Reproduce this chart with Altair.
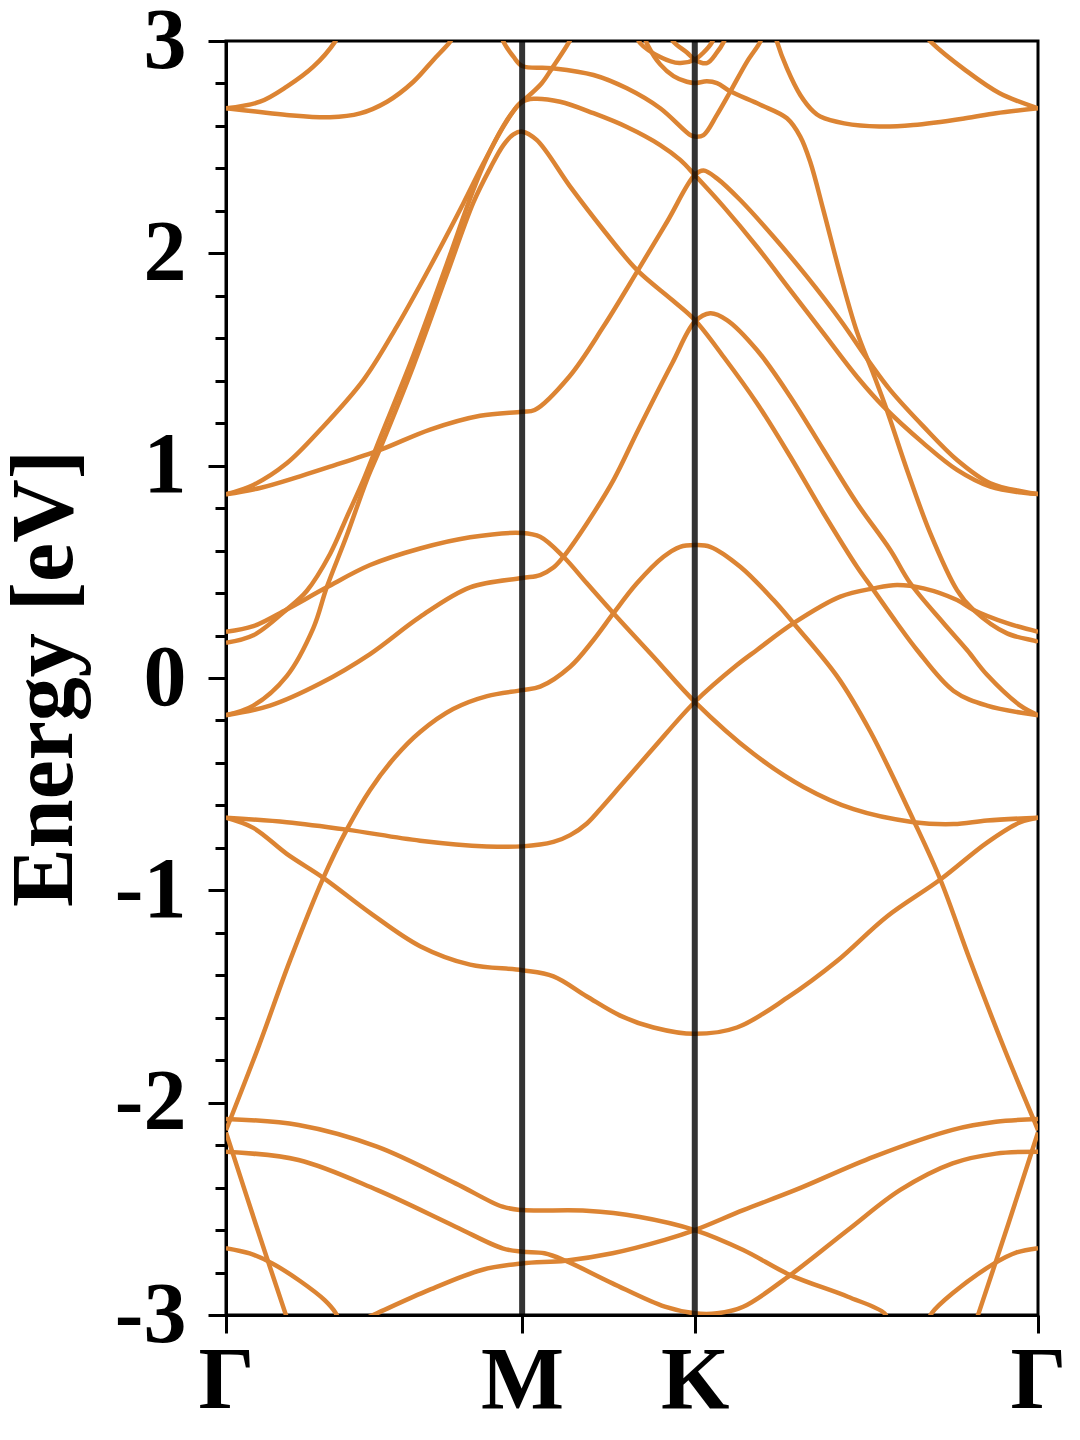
import altair as alt
import pandas as pd

# High-symmetry points along the path (path length units)
KPOINTS = [0.0, 1.0, 1.583, 2.742]
KLABELS = ["Γ", "M", "K", "Γ"]
E_MIN, E_MAX = -3, 3
YTICKS = [round(-3 + 0.2 * i, 1) for i in range(31)]

# Bands: lists of (k, energy in eV)
BAND_A = [(0.0, -2.13), (0.1115, -1.73), (0.2162, -1.33), (0.3287, -0.941), (0.4078, -0.714),
          (0.4865, -0.527), (0.5709, -0.372), (0.6554, -0.254), (0.7669, -0.146), (0.8818, -0.085),
          (1.0, -0.057),
          (1.0608, -0.041), (1.1622, 0.053), (1.2409, 0.179), (1.3084, 0.305), (1.3875, 0.446),
          (1.4774, 0.571), (1.5338, 0.618), (1.583, 0.626), (1.6351, 0.618), (1.7365, 0.524),
          (1.849, 0.367), (1.9166, 0.258), (2.0632, 0.009), (2.1757, -0.252), (2.322, -0.671),
          (2.4122, -0.949), (2.5135, -1.333), (2.630, -1.752), (2.7274, -2.08), (2.742, -2.13)]
BAND_BL = [(0.0, -2.14), (0.1, -2.57), (0.2, -2.99), (0.21, -3.03)]
BAND_BR = [(2.532, -3.03), (2.5419, -2.99), (2.642, -2.57), (2.742, -2.14)]
BAND_G1 = [(0.0, -2.077), (0.2449, -2.105), (0.5098, -2.207), (0.775, -2.38), (0.9338, -2.49),
           (1.0, -2.506), (1.2166, -2.509), (1.3932, -2.537), (1.583, -2.60), (1.7466, -2.694),
           (1.9054, -2.812), (2.1, -2.914), (2.2236, -2.992), (2.235, -3.03)]
BAND_G2 = [(0.0, -2.231), (0.2449, -2.27), (0.5098, -2.411), (0.775, -2.584), (0.9338, -2.686),
           (1.0, -2.702), (1.0753, -2.709), (1.1459, -2.744), (1.3051, -2.851), (1.4818, -2.961),
           (1.583, -2.992), (1.6584, -2.992), (1.7466, -2.961), (1.9054, -2.812), (2.1, -2.6),
           (2.277, -2.411), (2.4534, -2.286), (2.6, -2.24), (2.742, -2.231)]
BAND_G3 = [(0.45, -3.03), (0.5098, -2.992), (0.6865, -2.882), (0.8632, -2.788), (1.0, -2.757),
           (1.1459, -2.744), (1.3051, -2.709), (1.4818, -2.646), (1.583, -2.60), (1.7466, -2.506),
           (1.9233, -2.411), (2.1885, -2.254), (2.4534, -2.128), (2.6, -2.09), (2.742, -2.077)]
BAND_G4L = [(0.0, -2.685), (0.08, -2.71), (0.1564, -2.757), (0.25, -2.84), (0.3331, -2.93),
            (0.37, -2.99), (0.382, -3.03)]
BAND_G4R = [(2.37, -3.03), (2.3828, -2.992), (2.4534, -2.898), (2.5946, -2.757), (2.67, -2.705),
            (2.742, -2.685)]
BAND_H1 = [(0.0, -0.658), (0.2051, -0.679), (0.4078, -0.714), (0.6554, -0.766), (0.8807, -0.793),
           (1.0, -0.793), (1.1057, -0.772), (1.1622, -0.74), (1.2186, -0.685), (1.2747, -0.60),
           (1.3311, -0.51), (1.4436, -0.33),
           (1.583, -0.113), (1.7253, 0.061), (1.7929, 0.132), (1.9166, 0.258), (2.0743, 0.383),
           (2.1868, 0.422), (2.2659, 0.438), (2.3557, 0.422), (2.4686, 0.367), (2.5247, 0.32),
           (2.6375, 0.258), (2.742, 0.218)]
BAND_H2 = [(0.0, 0.218), (0.0922, 0.244), (0.2051, 0.323), (0.3402, 0.427), (0.4865, 0.532),
           (0.6554, 0.610), (0.8243, 0.663), (1.0, 0.683), (1.0608, 0.665), (1.1395, 0.571),
           (1.2186, 0.446), (1.3084, 0.305), (1.4436, 0.1), (1.583, -0.112), (1.7814, -0.357),
           (1.9503, -0.513), (2.1193, -0.618), (2.322, -0.679), (2.4571, -0.688), (2.5699, -0.671),
           (2.742, -0.658)]
BAND_H3 = [(0.0, -0.658), (0.0922, -0.706), (0.2051, -0.828), (0.3287, -0.941), (0.4865, -1.106),
           (0.6554, -1.263), (0.8243, -1.350), (1.0, -1.376), (1.1057, -1.405), (1.2186, -1.50),
           (1.3311, -1.59), (1.4436, -1.646), (1.583, -1.676), (1.7253, -1.646), (1.8943, -1.507),
           (2.0632, -1.333), (2.2321, -1.123), (2.4122, -0.949), (2.5699, -0.775), (2.6824, -0.679),
           (2.742, -0.658)]
BAND_H4 = [(0.0, -0.175), (0.1486, -0.130), (0.3176, -0.026), (0.4865, 0.113), (0.6554, 0.288),
           (0.8243, 0.427), (1.0, 0.471), (1.0608, 0.485), (1.1057, 0.52), (1.1395, 0.571),
           (1.2186, 0.728), (1.3084, 0.932), (1.3919, 1.168), (1.5068, 1.482), (1.583, 1.678),
           (1.6351, 1.718), (1.6916, 1.686), (1.7929, 1.545), (1.9054, 1.325), (2.0179, 1.074),
           (2.1307, 0.823), (2.2432, 0.603), (2.3108, 0.446), (2.4233, 0.258), (2.5024, 0.132),
           (2.5699, 0.015), (2.6824, -0.13), (2.742, -0.175)]
BAND_H5 = [(0.0, -0.175), (0.0922, -0.130), (0.2051, 0.009), (0.2949, 0.235), (0.3402, 0.427),
           (0.4078, 0.671), (0.4753, 0.932), (0.5203, 1.08), (0.6328, 1.47), (0.7456, 1.90),
           (0.8355, 2.24), (0.8919, 2.40), (0.9368, 2.51), (0.9706, 2.56), (1.0, 2.573),
           (1.049, 2.534), (1.1622, 2.314), (1.2747, 2.11), (1.3875, 1.922), (1.5068, 1.78),
           (1.583, 1.686), (1.6801, 1.513), (1.7929, 1.294), (1.9054, 1.043), (2.0179, 0.776),
           (2.1307, 0.524), (2.1868, 0.414), (2.2659, 0.258), (2.3334, 0.132), (2.4571, -0.061),
           (2.5699, -0.130), (2.742, -0.175)]
BAND_H6 = [(0.0, 0.166), (0.0922, 0.201), (0.2051, 0.323), (0.2726, 0.41), (0.3514, 0.584),
           (0.4078, 0.758), (0.4639, 0.932), (0.5203, 1.13), (0.6328, 1.52), (0.7456, 1.95),
           (0.8355, 2.30), (0.8807, 2.45), (0.9368, 2.60), (0.9706, 2.67), (1.0, 2.714),
           (1.0382, 2.728), (1.1284, 2.714), (1.2409, 2.66), (1.3537, 2.595), (1.4662, 2.51),
           (1.5338, 2.44), (1.583, 2.369), (1.6801, 2.22), (1.7929, 2.031), (1.9054, 1.827),
           (2.0179, 1.623), (2.1307, 1.419), (2.2206, 1.278), (2.3557, 1.105), (2.4686, 0.98),
           (2.5811, 0.901), (2.6936, 0.872), (2.742, 0.866)]
BAND_H7 = [(0.0, 0.865), (0.0922, 0.909), (0.2051, 1.011), (0.3176, 1.168), (0.4639, 1.403),
           (0.5767, 1.655), (0.6892, 1.937), (0.8017, 2.236), (0.8693, 2.424), (0.9368, 2.597),
           (0.9821, 2.691), (1.0, 2.714), (1.0655, 2.80), (1.1007, 2.871), (1.1591, 2.997),
           (1.17, 3.03)]
BAND_H8 = [(0.0, 0.865), (0.1149, 0.895), (0.25, 0.95), (0.3514, 0.995), (0.5203, 1.074),
           (0.6892, 1.17), (0.8581, 1.235), (1.0, 1.254), (1.0422, 1.262), (1.1588, 1.419),
           (1.2747, 1.655), (1.3919, 1.922), (1.49, 2.15), (1.583, 2.369), (1.6125, 2.39),
           (1.6578, 2.353), (1.7365, 2.251), (1.849, 2.078), (1.9618, 1.89), (2.0743, 1.686),
           (2.1757, 1.482), (2.2432, 1.356), (2.3557, 1.184), (2.4686, 1.027), (2.5811, 0.917),
           (2.6936, 0.877), (2.742, 0.866)]
BAND_T1 = [(0.0, 2.683), (0.1149, 2.714), (0.2051, 2.785), (0.2949, 2.879), (0.3682, 2.997),
           (0.38, 3.03)]
BAND_T2 = [(0.0, 2.683), (0.1, 2.668), (0.2051, 2.652), (0.3514, 2.641), (0.4527, 2.659),
           (0.5439, 2.714), (0.6328, 2.808), (0.7003, 2.911), (0.7568, 2.997), (0.77, 3.03)]
BAND_T3 = [(0.93, 3.03), (0.9368, 2.997), (0.9706, 2.926), (1.0, 2.882), (1.1014, 2.872),
           (1.2409, 2.84), (1.3537, 2.777), (1.4662, 2.683), (1.5676, 2.557), (1.583, 2.55),
           (1.6125, 2.557), (1.6578, 2.652), (1.7027, 2.761), (1.7591, 2.902), (1.8041, 2.997),
           (1.81, 3.03)]
BAND_J = [(1.41, 3.03), (1.4257, 2.976), (1.4662, 2.89), (1.5112, 2.835), (1.5564, 2.808),
          (1.583, 2.802), (1.624, 2.81), (1.6578, 2.802), (1.7027, 2.763), (1.8041, 2.70),
          (1.8943, 2.636), (1.9392, 2.55), (1.973, 2.43), (2.0179, 2.20), (2.0743, 1.90),
          (2.1307, 1.63), (2.1868, 1.43), (2.2321, 1.26), (2.2997, 0.98), (2.3784, 0.681),
          (2.4686, 0.414), (2.5247, 0.32), (2.6375, 0.21), (2.7389, 0.171), (2.742, 0.166)]
BAND_U1 = [(1.385, 3.03), (1.3986, 2.99), (1.4662, 2.925), (1.5304, 2.896), (1.583, 2.912),
           (1.6125, 2.946), (1.6409, 2.994), (1.65, 3.03)]
BAND_U2 = [(1.50, 3.03), (1.5112, 2.996), (1.5564, 2.946), (1.583, 2.912), (1.624, 2.896),
           (1.6578, 2.946), (1.6801, 2.994), (1.69, 3.03)]
BAND_L = [(1.855, 3.03), (1.8605, 2.997), (1.8943, 2.871), (1.9392, 2.746), (1.9841, 2.667),
          (2.0068, 2.644), (2.0878, 2.612), (2.2061, 2.597), (2.3209, 2.604), (2.4966, 2.636),
          (2.6, 2.66), (2.742, 2.683)]
BAND_M = [(2.36, 3.03), (2.3797, 2.997), (2.4966, 2.863), (2.6125, 2.754), (2.742, 2.683)]

BANDS = {
    "A": BAND_A, "BL": BAND_BL, "BR": BAND_BR, "G1": BAND_G1, "G2": BAND_G2, "G3": BAND_G3,
    "G4L": BAND_G4L, "G4R": BAND_G4R, "H1": BAND_H1, "H2": BAND_H2, "H3": BAND_H3,
    "H4": BAND_H4, "H5": BAND_H5, "H6": BAND_H6, "H7": BAND_H7, "H8": BAND_H8,
    "T1": BAND_T1, "T2": BAND_T2, "T3": BAND_T3, "J": BAND_J, "U1": BAND_U1, "U2": BAND_U2,
    "L": BAND_L, "M": BAND_M,
}

rows = []
for name, pts in BANDS.items():
    for i, (k, e) in enumerate(pts):
        rows.append({"band": name, "k": k, "E": e, "i": i})
df = pd.DataFrame(rows)

FONT = "Liberation Serif"
BAND_COLOR = "#dc8433"

k_list = "[" + ",".join(str(v) for v in KPOINTS) + "]"
lab_list = "[" + ",".join("'" + s + "'" for s in KLABELS) + "]"
x_label_expr = f"{lab_list}[indexof({k_list}, datum.value)]"
is_major = "abs(datum.value - round(datum.value)) < 0.001"

x_scale = alt.Scale(domain=[KPOINTS[0], KPOINTS[-1]], nice=False, zero=False)
y_scale = alt.Scale(domain=[E_MIN, E_MAX], nice=False, zero=False)

x_axis = alt.Axis(
    values=KPOINTS, labelExpr=x_label_expr, title="", grid=False,
    tickSize=18, tickWidth=3, tickColor="black",
    domainColor="black", domainWidth=3,
    labelFont=FONT, labelFontSize=88, labelFontWeight="bold", labelColor="black",
    labelPadding=4, labelFlush=False, labelOverlap=False,
)
y_axis = alt.Axis(
    values=YTICKS, labelExpr=f"{is_major} ? '' + round(datum.value) : ''",
    title="Energy [eV]", grid=False,
    tickSize={"condition": {"test": is_major, "value": 18}, "value": 11},
    tickWidth=3, tickColor="black", domainColor="black", domainWidth=3,
    labelFont=FONT, labelFontSize=86, labelFontWeight="bold", labelColor="black",
    labelPadding=22, labelOverlap=False,
    titleFont=FONT, titleFontSize=88, titleFontWeight="bold", titleColor="black",
    titlePadding=25,
)

lines = alt.Chart(df).mark_line(
    color=BAND_COLOR, strokeWidth=4.5, clip=True, interpolate="catmull-rom"
).encode(
    x=alt.X("k:Q", scale=x_scale, axis=x_axis),
    y=alt.Y("E:Q", scale=y_scale, axis=y_axis),
    detail="band:N",
    order="i:Q",
)

vlines = alt.Chart(pd.DataFrame({"k": KPOINTS[1:3]})).mark_rule(
    color="black", opacity=0.8, strokeWidth=6
).encode(x=alt.X("k:Q", scale=x_scale, axis=x_axis))

chart = alt.layer(lines, vlines).properties(
    width=812, height=1274,
    autosize=alt.AutoSizeParams(type="none"),
    padding={"left": 218, "top": 33, "right": 30, "bottom": 110},
    background="white",
).configure_view(stroke="black", strokeWidth=3)

chart.save("out.html", embed_options={"renderer": "svg", "actions": False})
